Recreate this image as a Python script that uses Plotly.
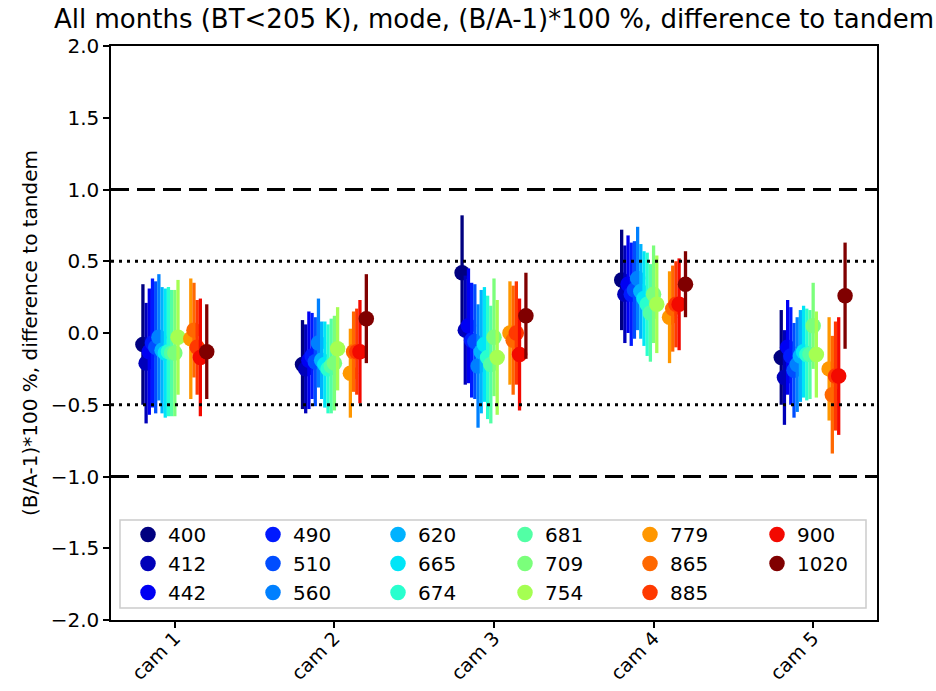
import numpy as np
import plotly.graph_objects as go

# Cameras on the x axis
cameras = ["cam 1", "cam 2", "cam 3", "cam 4", "cam 5"]

# OLCI wavelengths (nm) and their band numbers (Oa01..Oa21)
wavelengths = [400, 412, 442, 490, 510, 560, 620, 665, 674, 681, 709, 754, 779, 865, 885, 900, 1020]
band_number = [1, 2, 3, 4, 5, 6, 7, 8, 9, 10, 11, 12, 16, 17, 18, 19, 21]

# Mode of (B/A-1)*100 % difference to tandem, per camera (rows) and band (columns)
mode_cam1 = [-0.08, -0.21, -0.13, -0.07, -0.10, -0.03, -0.12, -0.14, -0.13, -0.14, -0.14, -0.03, -0.04, 0.02, -0.10, -0.17, -0.13]
mode_cam2 = [-0.22, -0.25, -0.19, -0.16, -0.20, -0.07, -0.19, -0.22, -0.25, -0.23, -0.21, -0.11, -0.28, -0.13, -0.13, -0.13, 0.10]
mode_cam3 = [0.42, 0.02, 0.05, -0.05, -0.06, -0.23, -0.13, -0.08, -0.17, -0.22, -0.03, -0.17, 0.00, -0.05, 0.00, -0.15, 0.12]
mode_cam4 = [0.37, 0.27, 0.34, 0.27, 0.30, 0.38, 0.29, 0.24, 0.20, 0.14, 0.27, 0.20, 0.11, 0.17, 0.20, 0.20, 0.34]
mode_cam5 = [-0.17, -0.31, -0.10, -0.16, -0.26, -0.22, -0.16, -0.13, -0.15, -0.15, 0.05, -0.15, -0.25, -0.43, -0.30, -0.30, 0.26]

# Spread (error bar half-length) per camera and band
err_cam1 = [0.42, 0.42, 0.44, 0.45, 0.46, 0.44, 0.44, 0.45, 0.45, 0.44, 0.44, 0.40, 0.42, 0.33, 0.33, 0.41, 0.33]
err_cam2 = [0.31, 0.31, 0.34, 0.30, 0.31, 0.31, 0.27, 0.30, 0.31, 0.33, 0.33, 0.29, 0.31, 0.28, 0.30, 0.36, 0.31]
err_cam3 = [0.40, 0.38, 0.40, 0.40, 0.40, 0.43, 0.43, 0.40, 0.43, 0.41, 0.41, 0.40, 0.36, 0.38, 0.36, 0.39, 0.30]
err_cam4 = [0.35, 0.34, 0.34, 0.36, 0.34, 0.36, 0.33, 0.33, 0.36, 0.34, 0.34, 0.34, 0.32, 0.30, 0.30, 0.32, 0.23]
err_cam5 = [0.33, 0.33, 0.33, 0.34, 0.33, 0.33, 0.32, 0.32, 0.32, 0.31, 0.30, 0.30, 0.36, 0.41, 0.38, 0.41, 0.37]

y_ticks = [-2.0, -1.5, -1.0, -0.5, 0.0, 0.5, 1.0, 1.5, 2.0]

mode = np.array([mode_cam1, mode_cam2, mode_cam3, mode_cam4, mode_cam5])
err = np.array([err_cam1, err_cam2, err_cam3, err_cam4, err_cam5])


def jet(v):
    """Matplotlib 'jet' colormap."""
    r = np.interp(v, [0, 0.35, 0.66, 0.89, 1], [0, 0, 1, 1, 0.5])
    g = np.interp(v, [0, 0.125, 0.375, 0.64, 0.91, 1], [0, 0, 1, 1, 0, 0])
    b = np.interp(v, [0, 0.11, 0.34, 0.65, 1], [0.5, 1, 1, 0, 0])
    return "rgb(%d,%d,%d)" % (round(r * 255), round(g * 255), round(b * 255))


def fmt_tick(v):
    s = "%.1f" % v
    return s.replace("-", "\u2212")


FONT = "DejaVu Sans"
FS = 20
W, H = 936, 691
L, R, T, B = 111, 59, 46, 71
pw = W - L - R
ph = H - T - B

fig = go.Figure()

cam_pos = np.arange(len(cameras))
n_rows = 3
col_marker_px = [148, 273, 398, 525, 650, 777]

for k, (wl, bn) in enumerate(zip(wavelengths, band_number)):
    c = jet((bn - 1) / 20.0)
    offset = (bn - 11) * 0.02
    col = k // n_rows
    legend_id = "legend" if col == 0 else "legend%d" % (col + 1)
    fig.add_trace(go.Scatter(
        x=cam_pos + offset,
        y=mode[:, k],
        mode="markers",
        name=str(wl),
        legend=legend_id,
        marker=dict(color=c, size=15.5, line=dict(width=0)),
        error_y=dict(type="data", array=err[:, k], visible=True,
                     color=c, thickness=3.3, width=0),
        showlegend=True,
    ))

# Legend columns (column-major like the original layout)
legend_font = dict(family=FONT, size=FS, color="black")
for col, mx in enumerate(col_marker_px):
    key = "legend" if col == 0 else "legend%d" % (col + 1)
    fig.update_layout({key: dict(
        x=(mx - 20 - L) / pw, xanchor="left",
        y=(H - B - 515) / ph, yanchor="top",
        bgcolor="rgba(0,0,0,0)", borderwidth=0,
        font=legend_font, orientation="v",
        tracegroupgap=0, itemclick=False, itemdoubleclick=False,
    )})

# Reference lines
shapes = []
for yv, dash in [(1.0, "18px,8px"), (-1.0, "18px,8px"), (0.5, "3px,5px"), (-0.5, "3px,5px")]:
    shapes.append(dict(type="line", xref="paper", yref="y", x0=0, x1=1, y0=yv, y1=yv,
                       line=dict(color="black", width=3, dash=dash), layer="above"))

# Legend frame
shapes.append(dict(type="rect", xref="paper", yref="paper",
                   x0=(120 - L) / pw, x1=(866 - L) / pw,
                   y0=(H - B - 608) / ph, y1=(H - B - 520) / ph,
                   line=dict(color="#cccccc", width=1.5),
                   fillcolor="rgba(255,255,255,0.8)", layer="below"))

fig.update_layout(
    width=W, height=H,
    margin=dict(l=L, r=R, t=T, b=B, autoexpand=False),
    paper_bgcolor="white", plot_bgcolor="white",
    font=dict(family=FONT, size=FS, color="black"),
    title=dict(text="All months (BT<205 K), mode, (B/A-1)*100 %, difference to tandem",
               x=(L + pw / 2) / W, xanchor="center", y=1 - 19 / H, yanchor="middle",
               font=dict(family=FONT, size=26, color="black")),
    shapes=shapes,
    xaxis=dict(
        range=[-0.4, 4.4], tickmode="array", tickvals=list(cam_pos), ticktext=cameras,
        tickangle=-45, showgrid=False, zeroline=False, automargin=False,
        showline=True, linecolor="black", linewidth=1.5, mirror=True,
        ticks="outside", ticklen=6, tickwidth=1.5, tickcolor="black",
        tickfont=dict(family=FONT, size=19), ticklabelstandoff=-8,
    ),
    yaxis=dict(
        range=[-2.0, 2.0], tickmode="array", tickvals=y_ticks,
        ticktext=[fmt_tick(v) for v in y_ticks],
        showgrid=False, zeroline=False, automargin=False,
        showline=True, linecolor="black", linewidth=1.5, mirror=True,
        ticks="outside", ticklen=6, tickwidth=1.5, tickcolor="black",
        tickfont=dict(family=FONT, size=FS),
        title=dict(text="(B/A-1)*100 %, difference to tandem",
                   font=dict(family=FONT, size=FS), standoff=8),
    ),
)

fig.write_html("out.html")
